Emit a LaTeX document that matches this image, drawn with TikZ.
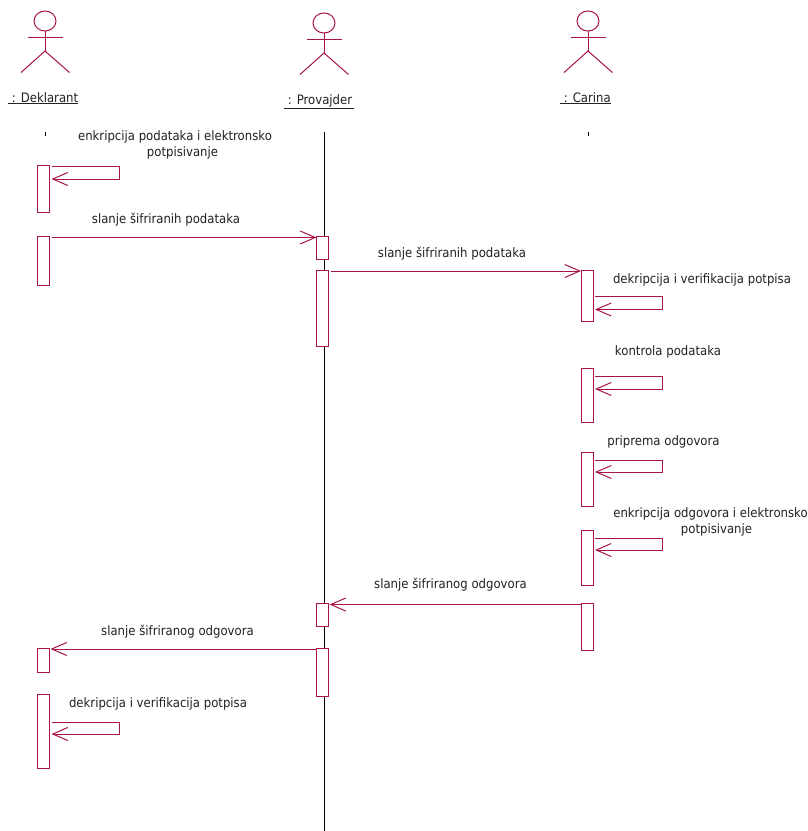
\documentclass[tikz,border=0pt]{standalone}
\usepackage{fontspec}
\setmainfont[FakeStretch=0.9]{DejaVu Sans}
\usetikzlibrary{arrows.meta,calc,shapes.geometric}
\definecolor{uml}{HTML}{A8144A}
\definecolor{txt}{HTML}{222222}
\tikzset{
  x=1pt,y=-1pt,
  bar/.style={draw=uml,line width=1pt,fill=white,minimum width=12pt,inner sep=0pt,outer sep=0pt,anchor=north},
  life/.style={draw=black,line width=1pt},
  msg/.style={draw=uml,line width=1pt,-{Straight Barb[length=15pt,width=13pt,line width=1pt]}},
  lbl/.style={text=txt,font=\fontsize{13}{16}\selectfont,inner sep=0pt,align=center},
  actorname/.style={text=txt,font=\fontsize{13}{15}\selectfont,inner sep=0pt},
  actorline/.style={draw=uml,line width=1pt}
}
\newcommand{\actor}[3]{% name, cx, head cy
  \node[draw=uml,line width=1pt,ellipse,minimum width=22pt,minimum height=20pt,inner sep=0pt,outer sep=0pt] (#1head) at (#2,#3) {};
  \coordinate (#1hip) at (#2,#3+30);
  \draw[actorline] (#1head.south) -- (#1hip);
  \draw[actorline] (#2-17.5,#3+16) -- (#2+17.5,#3+16);
  \draw[actorline] (#2-24,#3+51.5) -- (#1hip) -- (#2+24.5,#3+51.5);
}
\newcommand{\barbox}[4]{% name, center x, top, bottom
  \node[bar,minimum height=#4pt-#3pt] (#1) at (#2,#3) {};
}
\begin{document}
\begin{tikzpicture}
\useasboundingbox (0,0) rectangle (807,831);
\fill[white] (0,0) rectangle (807,831);

\actor{da}{45}{21}
\actor{pa}{324}{23}
\actor{ca}{588}{21}

\node[actorname,anchor=base west] (dn) at (8,102) {\underline{\ : Deklarant}};
\node[actorname,anchor=base west] (pn) at (284,104) {\underline{\ : Provajder\,}};
\node[actorname,anchor=base west] (cn) at (560,102) {\underline{\ : Carina}};

\coordinate (ltop) at (324.5,132);
\coordinate (lbot) at (324.5,831);
\draw[life] (ltop) -- (lbot);
\coordinate (dtop) at (45,132); \coordinate (dbot) at (45,136);
\coordinate (ctop) at (588,132); \coordinate (cbot) at (588,136);
\draw[life,line width=0.8pt] (dtop) -- (dbot);
\draw[life,line width=0.8pt] (ctop) -- (cbot);

\barbox{d1}{43.5}{165}{212}
\barbox{d2}{43.5}{236.5}{285}
\barbox{d3}{43.5}{648}{672}
\barbox{d4}{43.5}{694}{768}
\barbox{p1}{322.5}{236.5}{259}
\barbox{p2}{322.5}{270}{346}
\barbox{p3}{322.5}{603.5}{626}
\barbox{p4}{322.5}{648}{696.5}
\barbox{c1}{587}{270}{321}
\barbox{c2}{587}{368}{422}
\barbox{c3}{587}{452}{506}
\barbox{c4}{587}{530}{585}
\barbox{c5}{587}{603.5}{650}

% self messages
\draw[msg] ([xshift=2pt,yshift=-1pt]d1.north east) -- ++(67.5,0) -- ++(0,13) -- ++(-67.5,0);
\draw[msg] ([xshift=2pt,yshift=-26.5pt]c1.north east) -- ++(67.5,0) -- ++(0,13) -- ++(-67.5,0);
\draw[msg] ([xshift=2pt,yshift=-8pt]c2.north east) -- ++(67.5,0) -- ++(0,13) -- ++(-67.5,0);
\draw[msg] ([xshift=2pt,yshift=-8pt]c3.north east) -- ++(67.5,0) -- ++(0,12) -- ++(-67.5,0);
\draw[msg] ([xshift=2pt,yshift=-8pt]c4.north east) -- ++(67.5,0) -- ++(0,12) -- ++(-67.5,0);
\draw[msg] ([xshift=2pt,yshift=-28pt]d4.north east) -- ++(67.5,0) -- ++(0,12) -- ++(-67.5,0);

% messages between lifelines
\draw[msg] ([xshift=2pt,yshift=-1pt]d2.north east) -- ([yshift=-1pt]p1.north west);
\draw[msg] ([xshift=2pt,yshift=-1pt]p2.north east) -- ([yshift=-1pt]c1.north west);
\draw[msg] ([yshift=-1pt]c5.north west) -- ([xshift=1pt,yshift=-1pt]p3.north east);
\draw[msg] ([yshift=-1pt]p4.north west) -- ([xshift=1pt,yshift=-1pt]d3.north east);

% labels
\node[lbl] (m1) at (175,144.5) {enkripcija podataka i elektronsko\\\hspace*{15pt}potpisivanje};
\node[lbl] (m2) at (166,219.5) {slanje šifriranih podataka};
\node[lbl] (m3) at (452,253.5) {slanje šifriranih podataka};
\node[lbl] (m4) at (702,279.5) {dekripcija i verifikacija potpisa};
\node[lbl] (m5) at (668,351.5) {kontrola podataka};
\node[lbl] (m6) at (663.5,441.5) {priprema odgovora};
\node[lbl] (m7) at (710.5,521.5) {enkripcija odgovora i elektronsko\\\hspace*{12pt}potpisivanje};
\node[lbl] (m8) at (450.5,584.5) {slanje šifriranog odgovora};
\node[lbl] (m9) at (177.5,631.5) {slanje šifriranog odgovora};
\node[lbl] (m10) at (158,703.5) {dekripcija i verifikacija potpisa};
\end{tikzpicture}
\end{document}
